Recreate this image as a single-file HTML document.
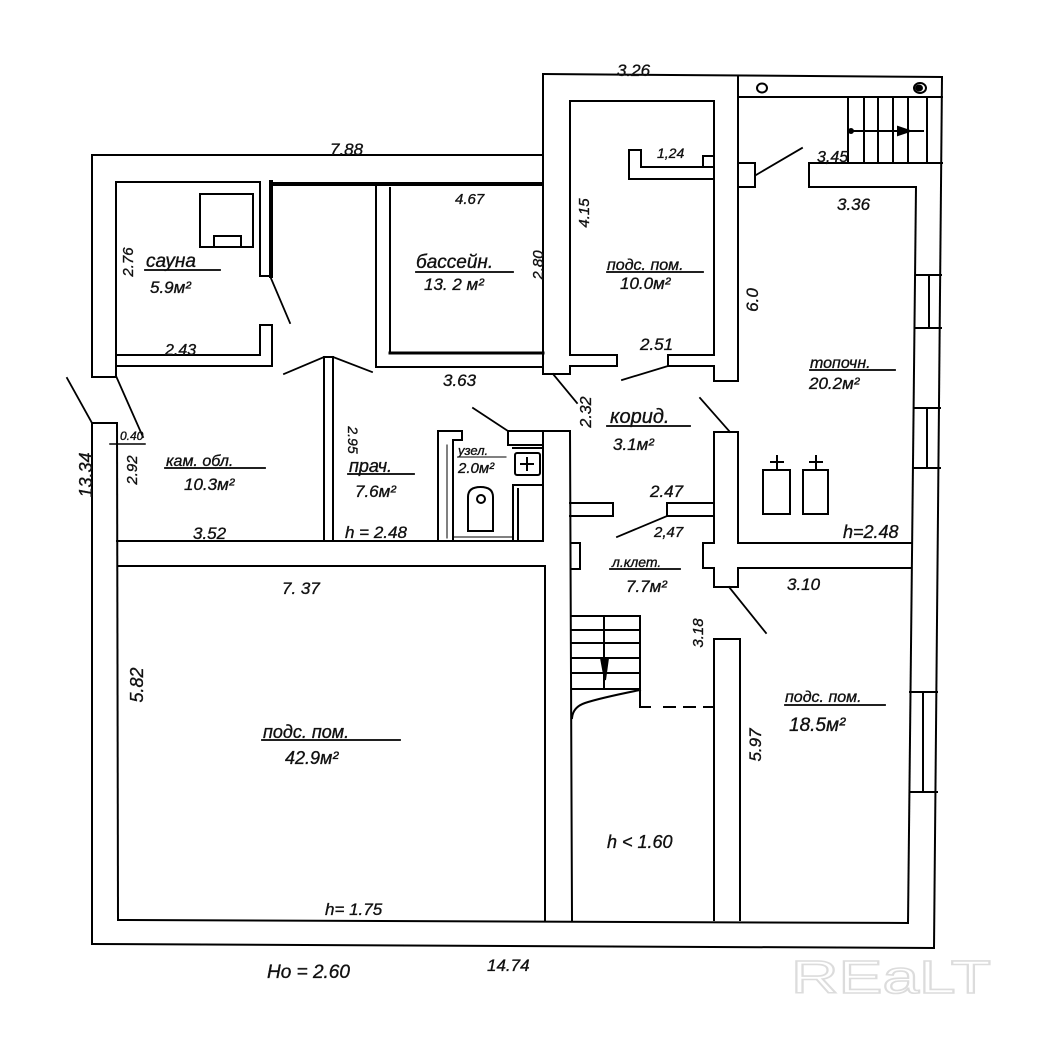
<!DOCTYPE html>
<html><head><meta charset="utf-8"><style>
html,body{margin:0;padding:0;background:#fff;}
svg{display:block;}
text{font-family:"Liberation Sans","DejaVu Sans",sans-serif;font-style:italic;fill:#111;stroke:#111;stroke-width:0.35;}
text.wm{font-style:normal;fill:#fff;stroke:#dcdcdc;stroke-width:1.6;}
</style></head><body>
<svg width="1039" height="1049" viewBox="0 0 1039 1049" xmlns="http://www.w3.org/2000/svg">
<rect width="1039" height="1049" fill="#fff"/>
<g stroke="#000" stroke-width="2" fill="none" stroke-linecap="square">
<!-- top-left wing -->
<line x1="92" y1="155" x2="543" y2="155"/>
<line x1="92" y1="155" x2="92" y2="377"/>
<line x1="92" y1="377" x2="116" y2="377"/>
<line x1="116" y1="182" x2="116" y2="377"/>
<line x1="116" y1="182" x2="260" y2="182"/>
<!-- sauna right wall -->
<line x1="260" y1="182" x2="260" y2="276"/>
<line x1="271" y1="182" x2="271" y2="276" stroke-width="4"/>
<line x1="260" y1="276" x2="272" y2="276"/>
<line x1="260" y1="325" x2="272" y2="325"/>
<line x1="260" y1="325" x2="260" y2="355"/>
<line x1="272" y1="325" x2="272" y2="366"/>
<line x1="116" y1="355" x2="260" y2="355"/>
<line x1="116" y1="366" x2="272" y2="366"/>
<!-- stove -->
<rect x="200" y="194" width="53" height="53"/>
<rect x="214" y="236" width="27" height="11"/>
<!-- top corridor thick -->
<line x1="273" y1="184" x2="542" y2="184" stroke-width="4"/>
<!-- basin -->
<line x1="376" y1="186" x2="376" y2="367"/>
<line x1="390" y1="188" x2="390" y2="353"/>
<line x1="390" y1="353" x2="543" y2="353" stroke-width="3"/>
<line x1="376" y1="367" x2="543" y2="367"/>
<!-- central block -->
<line x1="543" y1="74" x2="942" y2="77"/>
<line x1="543" y1="74" x2="543" y2="374"/>
<line x1="543" y1="374" x2="570" y2="374"/>
<line x1="570" y1="101" x2="714" y2="101"/>
<line x1="570" y1="101" x2="570" y2="355"/>
<line x1="570" y1="355" x2="617" y2="355"/>
<line x1="617" y1="355" x2="617" y2="366"/>
<line x1="617" y1="366" x2="570" y2="366"/>
<line x1="570" y1="366" x2="570" y2="374"/>
<line x1="714" y1="101" x2="714" y2="355"/>
<line x1="714" y1="355" x2="668" y2="355"/>
<line x1="668" y1="355" x2="668" y2="366"/>
<line x1="668" y1="366" x2="714" y2="366"/>
<line x1="714" y1="366" x2="714" y2="381"/>
<line x1="714" y1="381" x2="738" y2="381"/>
<line x1="738" y1="77" x2="738" y2="381"/>
<!-- 1.24 element -->
<path d="M629 150 H641 V167 H714 M629 150 V179 H714 M703 167 V156 H714"/>
<!-- pier -->
<path d="M738 163 H755 V187 H738"/>
<!-- top right strip -->
<line x1="738" y1="97" x2="942" y2="97"/>
<ellipse cx="762" cy="88" rx="5" ry="4.5"/>
<ellipse cx="920" cy="88" rx="6" ry="5"/>
<ellipse cx="919" cy="88" rx="3" ry="2.5" fill="#000"/>
<!-- stairs top -->
<line x1="848" y1="97" x2="848" y2="163"/>
<line x1="864" y1="97" x2="864" y2="163"/>
<line x1="878" y1="97" x2="878" y2="163"/>
<line x1="893" y1="97" x2="893" y2="163"/>
<line x1="908" y1="97" x2="908" y2="163"/>
<line x1="927" y1="97" x2="927" y2="163"/>
<line x1="850" y1="131" x2="923" y2="131"/>
<circle cx="851" cy="131" r="2" fill="#000"/>
<path d="M898 127 L910 131 L898 135 Z" fill="#000"/>
<!-- wall below stairs -->
<line x1="809" y1="163" x2="942" y2="163"/>
<line x1="809" y1="163" x2="809" y2="187"/>
<line x1="809" y1="187" x2="916" y2="187"/>
<line x1="916" y1="187" x2="908" y2="923"/>
<line x1="942" y1="77" x2="934" y2="948"/>
<!-- windows -->
<path d="M916 275 H941 M916 328 H941 M929 275 V328"/>
<path d="M914 408 H940 M914 468 H940 M927 408 V468"/>
<path d="M910 692 H937 M910 792 H937 M923 692 V792"/>
<!-- bottom -->
<line x1="92" y1="944" x2="934" y2="948"/>
<line x1="118" y1="920" x2="908" y2="923"/>
<!-- lower left -->
<line x1="92" y1="423" x2="117" y2="423"/>
<line x1="92" y1="423" x2="92" y2="944"/>
<line x1="117" y1="423" x2="118" y2="920"/>
<line x1="110" y1="444" x2="145" y2="444" stroke-width="1.5"/>
<!-- horizontal wall -->
<line x1="117" y1="541" x2="543" y2="541"/>
<line x1="118" y1="566" x2="545" y2="566"/>
<!-- prach/kam wall -->
<line x1="324" y1="357" x2="333" y2="357"/>
<line x1="324" y1="357" x2="324" y2="541"/>
<line x1="333" y1="357" x2="333" y2="541"/>
<!-- wc -->
<path d="M438 541 V431 H462 V440 H453 V541"/>
<line x1="447" y1="445" x2="447" y2="538" stroke-width="1"/>
<path d="M508 431 H543 M508 431 V445 H541 M513 448 H541"/>
<rect x="515" y="453" width="25" height="22" rx="2"/>
<path d="M527 458 V470 M521 464 H533"/>
<path d="M513 541 V485 H541 M518 489 V541"/>
<path d="M468 531 V497 Q468 487 480.5 487 Q493 487 493 497 V531 Z"/>
<circle cx="481" cy="499" r="4"/>
<line x1="453" y1="537" x2="513" y2="537" stroke-width="1"/>
<!-- wc right wall / lower wall -->
<line x1="543" y1="431" x2="570" y2="431"/>
<line x1="543" y1="431" x2="543" y2="541"/>
<line x1="545" y1="566" x2="545" y2="920"/>
<line x1="570" y1="431" x2="572" y2="920"/>
<!-- corridor tabs -->
<path d="M570 503 H613 V516 H570"/>
<path d="M714 503 H667 V516 H714"/>
<path d="M572 543 H580 V569 H572"/>
<!-- right column -->
<path d="M714 543 V432 H738 V543"/>
<path d="M703 543 H714 M738 543 H911 M911 568 H738 V587 H714 V568 H703 V543"/>
<!-- lower right wall -->
<path d="M714 920 V639 H740 V920"/>
<!-- stairs bottom -->
<path d="M572 616 H640 V707 H650"/>
<line x1="572" y1="630" x2="640" y2="630"/>
<line x1="572" y1="643" x2="640" y2="643"/>
<line x1="572" y1="658" x2="640" y2="658"/>
<line x1="572" y1="673" x2="640" y2="673"/>
<line x1="572" y1="689" x2="640" y2="689"/>
<line x1="604" y1="616" x2="604" y2="689"/>
<path d="M601 658 L608 658 L605 680 Z" fill="#000"/>
<path d="M640 690 Q600 698 585 703 Q573 707 572 718"/>
<line x1="664" y1="707" x2="714" y2="707" stroke-dasharray="11 9"/>
<!-- heaters -->
<rect x="763" y="470" width="27" height="44"/>
<rect x="803" y="470" width="25" height="44"/>
<path d="M777 470 V456 M771 462 H783 M816 470 V456 M810 462 H822"/>
<!-- door swing lines -->
<g stroke-width="1.8">
<line x1="67" y1="378" x2="92" y2="423"/>
<line x1="116" y1="376" x2="143" y2="437"/>
<line x1="270" y1="276" x2="290" y2="323"/>
<line x1="324" y1="357" x2="284" y2="374"/>
<line x1="333" y1="357" x2="372" y2="372"/>
<line x1="473" y1="408" x2="508" y2="431"/>
<line x1="553" y1="374" x2="577" y2="403"/>
<line x1="668" y1="366" x2="622" y2="380"/>
<line x1="700" y1="398" x2="730" y2="432"/>
<line x1="667" y1="516" x2="617" y2="537"/>
<line x1="729" y1="587" x2="766" y2="633"/>
<line x1="756" y1="175" x2="802" y2="148"/>
</g>
<!-- underlines -->
<g stroke-width="1.8">
<line x1="145" y1="270" x2="220" y2="270"/>
<line x1="416" y1="272" x2="513" y2="272"/>
<line x1="607" y1="272" x2="703" y2="272"/>
<line x1="810" y1="370" x2="895" y2="370"/>
<line x1="607" y1="426" x2="690" y2="426"/>
<line x1="165" y1="468" x2="265" y2="468"/>
<line x1="348" y1="474" x2="414" y2="474"/>
<line x1="458" y1="457" x2="506" y2="457" stroke-width="1"/>
<line x1="610" y1="569" x2="680" y2="569"/>
<line x1="785" y1="705" x2="885" y2="705"/>
<line x1="262" y1="740" x2="400" y2="740"/>
</g>
</g>
<!-- labels -->
<g font-size="17">
<text x="330" y="155">7.88</text>
<text x="617" y="76">3.26</text>
<text x="455" y="204" font-size="15">4.67</text>
<text x="657" y="158" font-size="14">1,24</text>
<text x="817" y="162" font-size="16">3,45</text>
<text x="837" y="210">3.36</text>
<text x="146" y="267" font-size="19">сауна</text>
<text x="150" y="293">5.9м²</text>
<text x="416" y="268" font-size="19">бассейн.</text>
<text x="424" y="290">13. 2 м²</text>
<text x="607" y="270" font-size="16">подс. пом.</text>
<text x="620" y="289">10.0м²</text>
<text x="165" y="355" font-size="16">2.43</text>
<text x="640" y="350">2.51</text>
<text x="443" y="386">3.63</text>
<text x="810" y="368" font-size="16">топочн.</text>
<text x="809" y="389">20.2м²</text>
<text x="610" y="423" font-size="20">корид.</text>
<text x="613" y="450">3.1м²</text>
<text x="120" y="440" font-size="12">0.40</text>
<text x="166" y="466" font-size="16">кам. обл.</text>
<text x="184" y="490">10.3м²</text>
<text x="349" y="472" font-size="18">прач.</text>
<text x="355" y="497">7.6м²</text>
<text x="458" y="455" font-size="13">узел.</text>
<text x="458" y="473" font-size="15">2.0м²</text>
<text x="650" y="497">2.47</text>
<text x="654" y="537" font-size="15">2,47</text>
<text x="193" y="539">3.52</text>
<text x="345" y="538">h = 2.48</text>
<text x="843" y="538" font-size="18">h=2.48</text>
<text x="612" y="567" font-size="14">л.клет.</text>
<text x="626" y="592">7.7м²</text>
<text x="282" y="594">7. 37</text>
<text x="787" y="590">3.10</text>
<text x="785" y="702" font-size="16">подс. пом.</text>
<text x="789" y="731" font-size="19">18.5м²</text>
<text x="263" y="738" font-size="18">подс. пом.</text>
<text x="285" y="764" font-size="18">42.9м²</text>
<text x="607" y="848" font-size="18">h &lt; 1.60</text>
<text x="325" y="915">h= 1.75</text>
<text x="267" y="978" font-size="19">Но = 2.60</text>
<text x="487" y="971">14.74</text>
<!-- rotated dims -->
<text transform="translate(92,475) rotate(-90)" text-anchor="middle" font-size="18">13.34</text>
<text transform="translate(133,262) rotate(-90)" text-anchor="middle" font-size="15">2.76</text>
<text transform="translate(543,265) rotate(-90)" text-anchor="middle" font-size="15">2.80</text>
<text transform="translate(589,213) rotate(-90)" text-anchor="middle" font-size="15">4.15</text>
<text transform="translate(758,300) rotate(-90)" text-anchor="middle" font-size="17">6.0</text>
<text transform="translate(591,412) rotate(-90)" text-anchor="middle" font-size="16">2.32</text>
<text transform="translate(137,470) rotate(-90)" text-anchor="middle" font-size="15">2.92</text>
<text transform="translate(348,440) rotate(90)" text-anchor="middle" font-size="14">2.95</text>
<text transform="translate(703,633) rotate(-90)" text-anchor="middle" font-size="15">3.18</text>
<text transform="translate(143,685) rotate(-90)" text-anchor="middle" font-size="18">5.82</text>
<text transform="translate(761,745) rotate(-90)" text-anchor="middle" font-size="17">5.97</text>
</g>
<!-- watermark -->
<text class="wm" x="791" y="993" font-size="46" textLength="200" lengthAdjust="spacingAndGlyphs">REaLT</text>
</svg>
</body></html>
